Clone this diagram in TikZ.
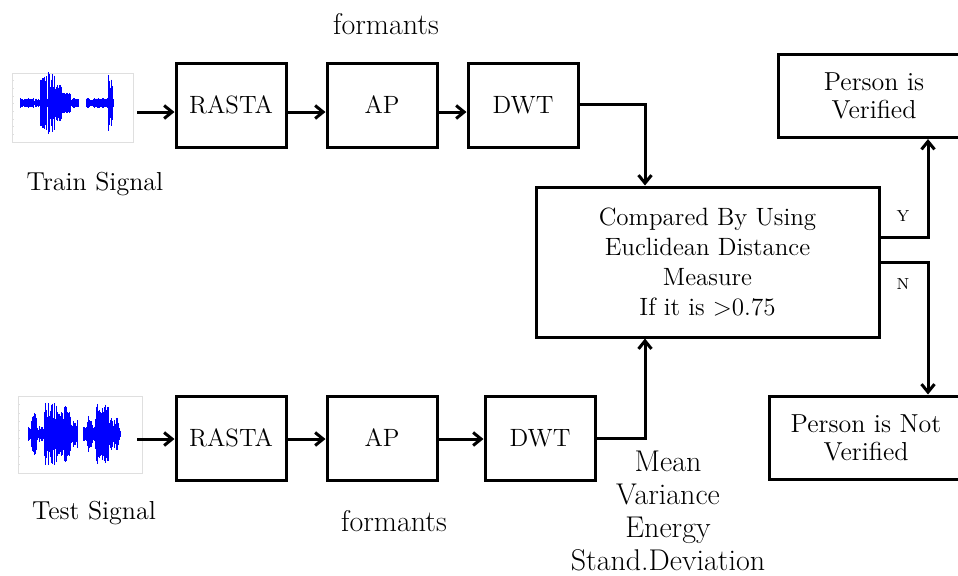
\documentclass[tikz,border=0pt]{standalone}
\usepackage{tikz}
\usetikzlibrary{arrows.meta,positioning,calc}
\begin{document}
\begin{tikzpicture}[x=0.5pt,y=-0.5pt,
  blk/.style={draw, line width=1.5pt, minimum width=55pt, minimum height=42pt, inner sep=0pt, font=\fontsize{12.5}{15}\selectfont, align=center},
  arr/.style={line width=1.5pt, -{Straight Barb[length=4pt,width=6.5pt]}},
  lbl/.style={font=\fontsize{13}{16}\selectfont},
  feat/.style={font=\fontsize{15}{16.5}\selectfont, align=center},
  sig/.style={draw=gray!25, line width=0.4pt, inner sep=0pt},
  wave/.style={blue, line width=0.5pt}]
\useasboundingbox (0,0) rectangle (958,575);
\clip (0,0) rectangle (958,575);

% input signals
\node[sig, minimum width=60.5pt, minimum height=34.5pt] (sig1) at (72.5,107.5) {};
\node[sig, minimum width=62pt, minimum height=38.5pt] (sig2) at (80,434.5) {};
\foreach \xa/\yt/\yb in {12/73/142, 18/396/473} {
  \foreach \k in {1,...,8} {
    \draw[gray!25, line width=0.3pt] (\xa,{\yt+\k*(\yb-\yt)/9}) -- ++(2,0);
  }
}
\pgfmathsetseed{11}
\foreach \xa/\xb/\amp/\yc in {20/78/5/103, 40/46/27/103, 48/54/31/103, 54/62/20/103, 62/70/12/103, 86/113/5/103, 108/112/29/103,
                              28/77/8/434, 31/36/22/434, 44/56/31/434, 56/64/22/434, 64/70/29/434, 70/77/15/434,
                              83/120/8/434, 87/92/18/434, 95/108/31/434, 108/118/17/434} {
  \pgfmathtruncatemacro\nn{(\xb-\xa)/0.5}
  \foreach \i in {0,...,\nn} {
    \pgfmathsetmacro\xx{\xa+0.5*\i}
    \pgfmathsetmacro\hh{\amp*(0.4+0.6*rnd)}
    \draw[wave] (\xx,\yc-\hh) -- (\xx,\yc+\hh);
  }
}
\node[lbl] (trainlbl) at (95,184) {Train Signal};
\node[lbl] (testlbl) at (94,513) {Test Signal};

% feature extraction chains
\node[blk] (rasta1) at (231,105) {RASTA};
\node[blk] (ap1) at (382,105) {AP};
\node[blk] (dwt1) at (523,105) {DWT};
\node[blk] (rasta2) at (231,438) {RASTA};
\node[blk] (ap2) at (382,438) {AP};
\node[blk] (dwt2) at (540,438) {DWT};
\node[feat] (fmt1) at (386,24) {formants};
\node[feat] (fmt2) at (394,521) {formants};
\node[feat] (stats) at (668,511) {Mean\\Variance\\Energy\\Stand.Deviation};

% matching and decision
\node[blk, minimum width=171.5pt, minimum height=75pt, font=\fontsize{12.5}{15}\selectfont] (cmp) at (707.5,262)
  {Compared By Using\\Euclidean Distance\\Measure\\If it is >0.75};
\node[blk, minimum width=96pt, minimum height=41.5pt, font=\fontsize{13}{14}\selectfont] (ver) at (874,96) {Person is\\Verified};
\node[blk, minimum width=97pt, minimum height=41.5pt, font=\fontsize{13}{14}\selectfont] (nver) at (866,437.5) {Person is Not\\Verified};
\node[font=\fontsize{8}{8}\selectfont] (ylab) at (903,216) {Y};
\node[font=\fontsize{8}{8}\selectfont] (nlab) at (903,284) {N};

% connectors
\draw[arr] ([xshift=2pt,yshift=-2.25pt]sig1.east) -- ([yshift=-3.5pt]rasta1.west);
\draw[arr] ([yshift=-3.5pt]rasta1.east) -- ([yshift=-3.5pt]ap1.west);
\draw[arr] ([yshift=-3.5pt]ap1.east) -- ([yshift=-3.5pt]dwt1.west);
\draw[arr] ([yshift=0.5pt]dwt1.east) -| ([xshift=-31.25pt]cmp.north);
\draw[arr] ([xshift=-2.5pt,yshift=-2.25pt]sig2.east) -- ([yshift=-0.5pt]rasta2.west);
\draw[arr] ([yshift=-0.5pt]rasta2.east) -- ([yshift=-0.5pt]ap2.west);
\draw[arr] ([yshift=-0.5pt]ap2.east) -- ([yshift=-0.5pt]dwt2.west);
\draw[arr] (dwt2.east) -| ([xshift=-31.25pt]cmp.south);
\draw[arr] ([yshift=12.5pt]cmp.east) -| ([xshift=27pt]ver.south);
\draw[arr] (cmp.east) -| ([xshift=31pt]nver.north);
\end{tikzpicture}
\end{document}
